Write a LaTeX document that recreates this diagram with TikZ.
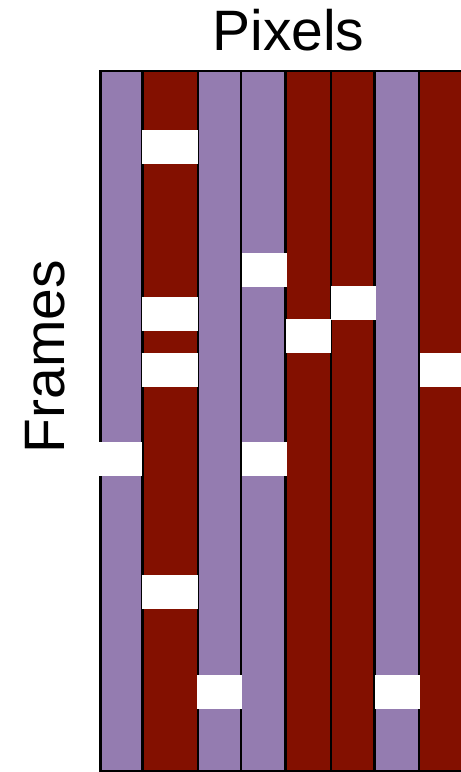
\documentclass[tikz,border=0pt]{standalone}
\usepackage{fontspec}
\setmainfont{Liberation Sans}
\usepackage{xcolor}
\usetikzlibrary{positioning}
\definecolor{pixpurple}{RGB}{148,124,176}
\definecolor{pixred}{RGB}{131,16,0}

\begin{document}
\begin{tikzpicture}[
    x=1pt, y=-1pt,
    every node/.style={align=center, inner sep=0pt},
    axislabel/.style={font=\fontsize{57}{60}\selectfont},
    pixcol/.style={fill=#1, draw=black, line width=2.8pt},
    dropout/.style={fill=white}
]
    \useasboundingbox (0,0) rectangle (461,772);
    % one column per pixel
    \foreach \l/\r/\c in {100.5/142.5/pixpurple, 142.5/198/pixred, 198/241/pixpurple,
                          241/285.5/pixpurple, 285.5/331/pixred, 331/374.5/pixred,
                          374.5/419/pixpurple, 419/465/pixred}
        \draw[pixcol=\c] (\l,71) rectangle (\r,771);
    % dropped frames
    \foreach \l/\r/\t in {97/142/442, 142/198/130, 142/198/297, 142/198/353, 142/198/575,
                          197/242/675, 242/287/253, 242/287/442, 286/331/319,
                          331/376/286, 375/420/675, 420/461/353}
        \fill[dropout] (\l,\t) rectangle (\r,\t+34);
    \node[axislabel, anchor=base] (pixels) at (288.5,50) {Pixels};
    \node[axislabel, rotate=90, anchor=base] (frames) at (64,356.5) {Frames};
\end{tikzpicture}
\end{document}
